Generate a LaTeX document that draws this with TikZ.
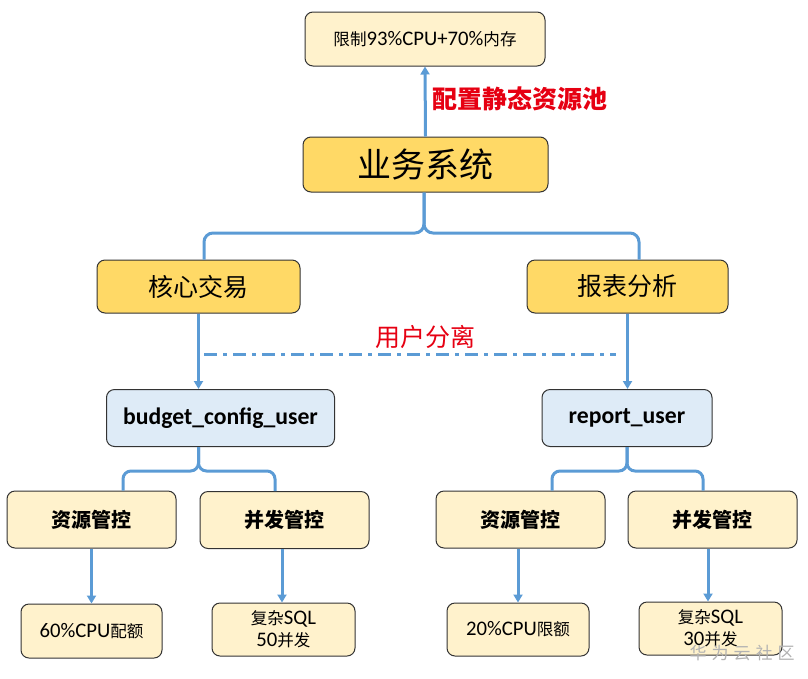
\documentclass[tikz,border=0pt]{standalone}
\usepackage{fontspec}
\usepackage{tikz}
\usetikzlibrary{arrows.meta}
\setmainfont{Carlito}
\newfontfamily\cjk{Noto Sans CJK SC}
\newfontfamily\cjkmix{Noto Sans CJK SC}[Scale=0.8]
\definecolor{dbyellow}{RGB}{255,217,102}
\definecolor{dbcream}{RGB}{255,242,204}
\definecolor{dbblue}{RGB}{222,235,247}
\definecolor{dbline}{RGB}{91,155,213}
\definecolor{dbred}{RGB}{230,0,18}

\begin{document}
\begin{tikzpicture}[x=1pt, y=-1pt, >={Triangle[width=9pt,length=8pt]},
    box/.style={draw=black!80, line width=1pt, rounded corners=8pt, align=center, inner sep=0pt},
    sysbox/.style={box, fill=dbyellow},
    userbox/.style={box, fill=dbblue, minimum height=57pt, font=\bfseries\fontsize{23.7}{26}\selectfont},
    ctrlbox/.style={box, fill=dbcream, minimum width=169pt, minimum height=57pt, font=\cjk\bfseries\fontsize{20}{24}\selectfont},
    leafbox/.style={box, fill=dbcream, minimum width=142pt, minimum height=54pt, font=\fontsize{20.7}{22}\selectfont},
    link/.style={dbline, line width=3pt},
    note/.style={dbred, font=\cjk\bfseries\fontsize{25}{30}\selectfont}]

                \useasboundingbox (0,0) rectangle (808,678);

                % Resource pool on top
                \node[leafbox, minimum width=240pt] (pool) at (425,39) {{\cjkmix 限制}93\%CPU+70\%{\cjkmix 内存}};
                \node[sysbox, minimum width=245pt, minimum height=55pt, font=\cjk\fontsize{34}{40}\selectfont] (biz) at (425.5,164.5) {业务系统};
                \node[note] (poolnote) at (520,99) {配置静态资源池};
                \draw[->, link] (biz.north) -- (pool.south);

                % Two business lines
                \node[sysbox, minimum width=203pt, minimum height=53pt, font=\cjk\fontsize{25}{30}\selectfont] (core) at (198.5,286.5) {核心交易};
                \node[sysbox, minimum width=201pt, minimum height=53pt, font=\cjk\fontsize{25}{30}\selectfont] (report) at (627.5,286.5) {报表分析};
                \coordinate (bizsplit) at (424,233);
                \draw[link, rounded corners=9pt] (core.north -| 204,0) |- (bizsplit) -- (bizsplit |- biz.south);
                \draw[link, rounded corners=9pt] (report.north -| 639,0) |- (bizsplit) -- (bizsplit |- biz.south);

                % User separation
                \draw[link, dash pattern=on 13pt off 6pt on 4pt off 6pt] (204,354) -- (616,354);
                \node[note, font=\cjk\fontsize{25}{30}\selectfont] (usernote) at (425,337) {用户分离};

                % Database users
                \node[userbox, minimum width=228pt] (budget) at (220.5,418) {budget\_config\_user};
                \node[userbox, minimum width=170pt] (rpt) at (627,418) {report\_user};
                \draw[->, link] (core.south) -- (core.south |- budget.north);
                \draw[->, link] (report.south) -- (report.south |- rpt.north);

                % Controls per user
                \node[ctrlbox] (res1) at (91.5,519.5) {资源管控};
                \node[ctrlbox] (conc1) at (284.5,520) {并发管控};
                \node[ctrlbox] (res2) at (520.5,519.5) {资源管控};
                \node[ctrlbox] (conc2) at (712.5,519.5) {并发管控};
                \coordinate (budsplit) at (198.5,471);
                \coordinate (rptsplit) at (627,471);
                \draw[link, rounded corners=8pt] (res1.north -| 123,0) |- (budsplit) -- (budsplit |- budget.south);
                \draw[link, rounded corners=8pt] (conc1.north -| 275,0) |- (budsplit) -- (budsplit |- budget.south);
                \draw[link, rounded corners=8pt] (res2.north -| 552,0) |- (rptsplit) -- (rptsplit |- rpt.south);
                \draw[link, rounded corners=8pt] (conc2.north -| 703,0) |- (rptsplit) -- (rptsplit |- rpt.south);

                % Limits
                \node[leafbox, minimum width=141pt] (cpu60) at (91.5,631) {60\%CPU{\cjkmix 配额}};
                \node[leafbox, minimum width=143pt, minimum height=53pt] (sql50) at (283.5,629.5) {{\cjkmix 复杂}SQL\\50{\cjkmix 并发}};
                \node[leafbox, minimum height=53pt] (cpu20) at (518,629.5) {20\%CPU{\cjkmix 限额}};
                \node[leafbox, minimum width=143pt, minimum height=53pt] (sql30) at (710.5,628.5) {{\cjkmix 复杂}SQL\\30{\cjkmix 并发}};
                \draw[->, link] (res1.south) -- (cpu60.north);
                \draw[->, link] (conc1.south -| 282,0) -- (sql50.north -| 282,0);
                \draw[->, link] (res2.south -| 518,0) -- (cpu20.north);
                \draw[->, link] (conc2.south -| 708,0) -- (sql30.north -| 708,0);

                % Watermark
                \node[text=black!30, font=\cjk\fontsize{17}{20}\selectfont] (mark) at (742,653) {华\hspace{5pt}为\hspace{5pt}云\hspace{5pt}社\hspace{5pt}区};
            \end{tikzpicture}
\end{document}
